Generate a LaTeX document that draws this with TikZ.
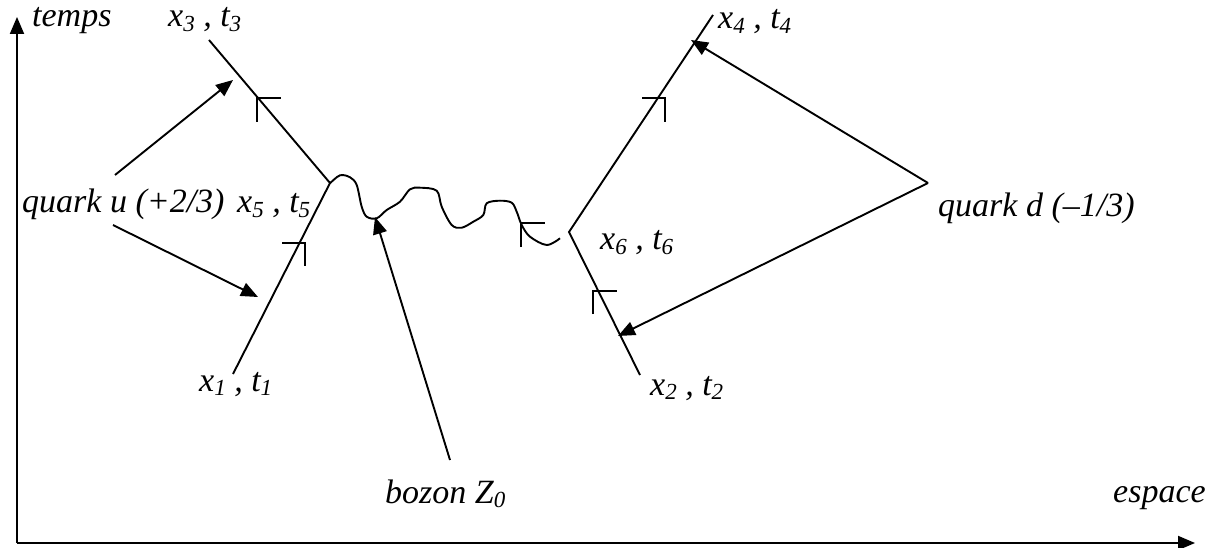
\documentclass[tikz,border=0pt]{standalone}
\usepackage{fontspec}
\setmainfont{Liberation Serif}
\usetikzlibrary{arrows.meta}
\newcommand\lowsub[1]{\raisebox{-0.13em}{\fontsize{23}{23}\selectfont #1}}
\begin{document}
\begin{tikzpicture}[x=1pt,y=-1pt,
  ln/.style={line width=1.9pt, line join=miter},
  arr/.style={line width=1.9pt, -{Triangle[length=17pt,width=14pt]}},
  lbl/.style={anchor=base west, inner sep=0pt, font=\fontsize{34}{40}\selectfont\itshape}]
\useasboundingbox (0,0) rectangle (1218,548);
% axes
\coordinate (O) at (17,543);
\coordinate (T) at (17,17);
\coordinate (E) at (1195,543);
\draw[arr] (O) -- (T);
\draw[arr] (O) -- (E);
\node[lbl] (temps) at (32,27) {temps};
\node[lbl] (espace) at (1113,502) {espace};
% vertices
\coordinate (x1) at (233,374);
\coordinate (x5) at (330,183);
\coordinate (x3) at (209,40);
\coordinate (x2) at (640,375);
\coordinate (x6) at (569,232);
\coordinate (x4) at (713,15);
\draw[ln] (x1) -- (x5) -- (x3);
\draw[ln] (x2) -- (x6) -- (x4);
% boson wave
\draw[ln, line join=round] plot[smooth, tension=0.55] coordinates {(330,183.3) (340,175.3) (350,177.3) (356.7,185) (361.7,206.7) (366.7,216.7) (376.7,218.3) (386.7,210) (400,201.7) (410,189.3) (420,187.7) (436.7,190.7) (441.7,206.7) (451.7,225) (461.7,227.7) (473.3,221.7) (483.3,215) (486.7,203.3) (500,200.7) (511.7,202.7) (516.7,211.7) (521.7,225) (530,236.7) (546.7,245) (560,238.3)};
% direction ticks
\draw[ln] (257,122) -- (257,98) -- (281,98);
\draw[ln] (282,243) -- (305,243) -- (305,266);
\draw[ln] (642,98) -- (665,98) -- (665,122);
\draw[ln] (593,314) -- (593,291) -- (617,291);
\draw[ln] (521,247) -- (521,223) -- (545,223);
% labels
\node[lbl] (l3) at (168,27) {x\lowsub{3} , t\lowsub{3}};
\node[lbl] (l4) at (718,29) {x\lowsub{4} , t\lowsub{4}};
\node[lbl] (qu) at (22,213) {quark u (+2/3)};
\node[lbl] (l5) at (237,213) {x\lowsub{5} , t\lowsub{5}};
\node[lbl] (qd) at (938,217) {quark d (--1/3)};
\node[lbl] (l6) at (600,250) {x\lowsub{6} , t\lowsub{6}};
\node[lbl] (l1) at (199,391) {x\lowsub{1} , t\lowsub{1}};
\node[lbl] (l2) at (650,395) {x\lowsub{2} , t\lowsub{2}};
\node[lbl] (bz) at (385,503) {bozon Z\lowsub{0}};
% pointer arrows
\coordinate (qu1) at (115,175);
\coordinate (qu2) at (113,225);
\coordinate (qd0) at (928,183);
\coordinate (bz0) at (450,460);
\coordinate (tu1) at (233,80);
\coordinate (tu2) at (258,297);
\coordinate (td1) at (691,40);
\coordinate (td2) at (618,336);
\coordinate (tz) at (375,217);
\draw[arr] (qu1) -- (tu1);
\draw[arr] (qu2) -- (tu2);
\draw[arr] (qd0) -- (td1);
\draw[arr] (qd0) -- (td2);
\draw[arr] (bz0) -- (tz);
\end{tikzpicture}
\end{document}
